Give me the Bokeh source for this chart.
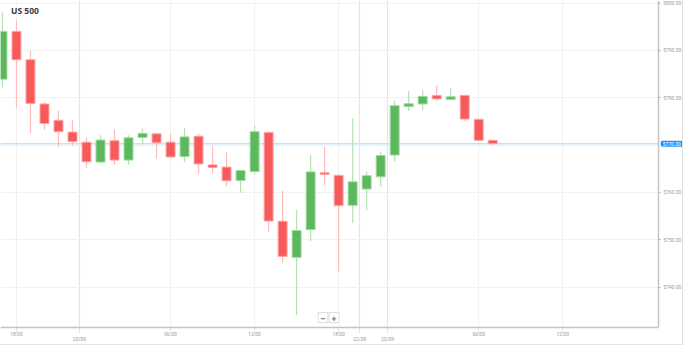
from bokeh.plotting import figure
from bokeh.models import (Range1d, FixedTicker, Grid, Label, ColumnDataSource,
                          LinearAxis, BoxAnnotation)
from bokeh.embed import file_html
from bokeh.resources import INLINE

# ---- data (hourly candles, US 500) ----
opens = [5783.93, 5794.02, 5788.03, 5778.68, 5775.25, 5772.75, 5770.61, 5766.43, 5770.93, 5766.84,
         5771.62, 5772.39, 5770.63, 5767.58, 5771.88, 5765.83, 5765.36, 5762.54, 5764.41, 5772.69,
         5753.92, 5746.31, 5752.16, 5764.15, 5763.61, 5757.29, 5760.72, 5763.30, 5767.91, 5778.14,
         5778.68, 5780.50, 5779.61, 5780.50, 5775.45, 5771.01]
highs = [5797.98, 5796.36, 5789.90, 5779.15, 5777.27, 5775.25, 5771.74, 5772.08, 5773.29, 5772.08,
         5773.50, 5772.39, 5772.29, 5773.64, 5772.43, 5769.86, 5768.51, 5764.62, 5774.10, 5772.95,
         5760.32, 5756.34, 5767.85, 5769.60, 5763.81, 5775.66, 5764.36, 5768.59, 5779.35, 5781.37,
         5781.57, 5782.58, 5782.03, 5780.50, 5775.45, 5771.01]
lows = [5782.24, 5777.79, 5772.43, 5773.23, 5769.60, 5769.86, 5765.16, 5766.23, 5765.83, 5765.89,
        5770.07, 5767.18, 5767.50, 5766.43, 5763.87, 5764.07, 5761.25, 5759.97, 5763.87, 5751.76,
        5745.24, 5734.14, 5749.74, 5761.65, 5743.36, 5753.58, 5756.28, 5761.33, 5766.57, 5777.19,
        5777.39, 5779.35, 5779.61, 5775.11, 5770.87, 5769.92]
closes = [5794.02, 5788.03, 5778.80, 5774.57, 5772.83, 5770.73, 5766.49, 5771.07, 5766.84, 5771.54,
          5772.49, 5770.51, 5767.50, 5771.74, 5766.03, 5765.28, 5762.46, 5764.62, 5772.83, 5753.98,
          5746.51, 5751.96, 5764.35, 5763.81, 5757.21, 5762.25, 5763.55, 5767.81, 5778.34, 5778.74,
          5780.30, 5779.75, 5780.22, 5775.51, 5771.01, 5770.30]

time_ticks = [1, 12, 18, 24, 34, 40]
time_labels = ["18:00", "06:00", "12:00", "18:00", "06:00", "12:00"]
date_ticks = [5.5, 25.5, 27.5]
date_labels = ["20/09", "22/09", "23/09"]
price_ticks = [5740, 5750, 5760, 5780, 5790, 5800]

UP_FILL, UP_LINE, UP_WICK = "#5cb85c", "#9fdb9f", "#b3e3b3"
DN_FILL, DN_LINE, DN_WICK = "#f75a5a", "#ffa3a3", "#fbbcbc"

# view window (index units / price units)
X0, XPLOT, X1 = -0.14, 46.81, 48.62
Y0, YPLOT, Y1 = 5727.69, 5731.53, 5800.54

xs = list(range(len(opens)))
up = [c >= o for o, c in zip(opens, closes)]
src = ColumnDataSource(dict(
    x=xs,
    top=[max(o, c) for o, c in zip(opens, closes)],
    bottom=[min(o, c) for o, c in zip(opens, closes)],
    high=highs, low=lows,
    fill=[UP_FILL if u else DN_FILL for u in up],
    line=[UP_LINE if u else DN_LINE for u in up],
    wick=[UP_WICK if u else DN_WICK for u in up],
))

W, H = 683, 345
p = figure(width=W, height=H, output_backend="svg", toolbar_location=None,
           x_range=Range1d(X0, X1), y_range=Range1d(Y0, Y1),
           x_axis_location=None, y_axis_location=None,
           min_border=0, min_border_left=0, min_border_right=0,
           min_border_top=0, min_border_bottom=0)
p.outline_line_color = None
p.background_fill_color = "white"
p.border_fill_color = "white"
p.xgrid.visible = False
p.ygrid.visible = False
p.styles = {"border-right": "1px solid #e2e2e2", "border-bottom": "1px solid #e2e2e2"}

FONT = "Roboto"

# grids
p.add_layout(Grid(dimension=0, ticker=FixedTicker(ticks=time_ticks),
                  grid_line_color="#f1f1f1", grid_line_width=1))
p.add_layout(Grid(dimension=0, ticker=FixedTicker(ticks=date_ticks),
                  grid_line_color="#e4e4e4", grid_line_width=1.2))
p.add_layout(Grid(dimension=1, ticker=FixedTicker(ticks=price_ticks + [5770]),
                  grid_line_color="#f1f1f1", grid_line_width=1.2))
# white masks over the axis areas
p.add_layout(BoxAnnotation(left=XPLOT, fill_color="white", fill_alpha=1,
                           line_color=None, level="underlay"))
p.add_layout(BoxAnnotation(top=YPLOT, fill_color="white", fill_alpha=1,
                           line_color=None, level="underlay"))

# x axis (bottom of plot area)
xa = LinearAxis(fixed_location=YPLOT, bounds=(X0, XPLOT))
xa.ticker = FixedTicker(ticks=time_ticks + date_ticks)
xa.major_label_overrides = {**{t: l for t, l in zip(time_ticks, time_labels)},
                            **{t: "" for t in date_ticks}}
xa.minor_tick_line_color = None
xa.major_tick_out = 5
xa.major_tick_in = 0
xa.major_tick_line_color = "#c4c4c4"
xa.major_tick_line_dash = "1 1"
xa.axis_line_color = "#c4c4c4"
xa.axis_line_width = 1.5
xa.major_label_text_font_size = "5px"
xa.major_label_text_color = "#9a9a9a"
xa.major_label_text_font = FONT
xa.major_label_standoff = -1
p.add_layout(xa, "below")

# y axis (right of plot area)
ya = LinearAxis(fixed_location=XPLOT, bounds=(YPLOT, Y1))
ya.ticker = FixedTicker(ticks=price_ticks)
ya.major_label_overrides = {t: f"{t:.2f}" for t in price_ticks}
ya.minor_tick_line_color = None
ya.major_tick_out = 2
ya.major_tick_in = 0
ya.major_tick_line_color = "#b0b0b0"
ya.axis_line_color = "#c4c4c4"
ya.axis_line_width = 1.5
ya.major_label_text_font_size = "5px"
ya.major_label_text_color = "#9a9a9a"
ya.major_label_text_font = FONT
ya.major_label_standoff = 3
p.add_layout(ya, "right")

# current price line
p.segment(x0=[X0], x1=[XPLOT], y0=[closes[-1]], y1=[closes[-1]],
          line_color="#bfdff5", line_width=1.6, line_alpha=0.9)

# candles
p.segment(x0="x", y0="low", x1="x", y1="high", source=src, line_color="wick", line_width=1.2)
p.vbar(x="x", width=0.64, top="top", bottom="bottom", source=src,
       fill_color="fill", line_color="line", line_width=1)

# title
p.add_layout(Label(x=10.5, y=H - 9.6, x_units="screen", y_units="screen",
                   text="US 500", text_font="Open Sans", text_font_style="bold",
                   text_font_size="8.5px", text_color="#3c3c3c", text_baseline="middle"))

# date labels below the time labels
for t, l in zip(date_ticks, date_labels):
    p.add_layout(Label(x=t, y=YPLOT, y_offset=-11.5,
                       text=l, text_font=FONT, text_font_size="5px",
                       text_color="#9a9a9a", text_align="center", text_baseline="middle"))

# current price tag on the right axis
p.add_layout(Label(x=XPLOT, y=closes[-1], x_offset=2.5,
                   text=f"{closes[-1]:.2f}", text_font=FONT, text_font_size="5px",
                   text_color="white", text_align="left", text_baseline="middle",
                   background_fill_color="#2196f3", padding=(2, 1), border_radius=2))

# zoom buttons
for bx, sym in [(322.5, "\u2212"), (333.5, "+")]:
    p.add_layout(Label(x=bx, y=28, x_units="screen", y_units="screen",
                       text=sym, text_font="DejaVu Sans", text_font_style="bold",
                       text_font_size="7px", text_color="#555555",
                       text_align="center", text_baseline="middle",
                       background_fill_color="white", border_line_color="#dddddd",
                       padding=2))

open("out.html", "w").write(file_html(p, INLINE))
